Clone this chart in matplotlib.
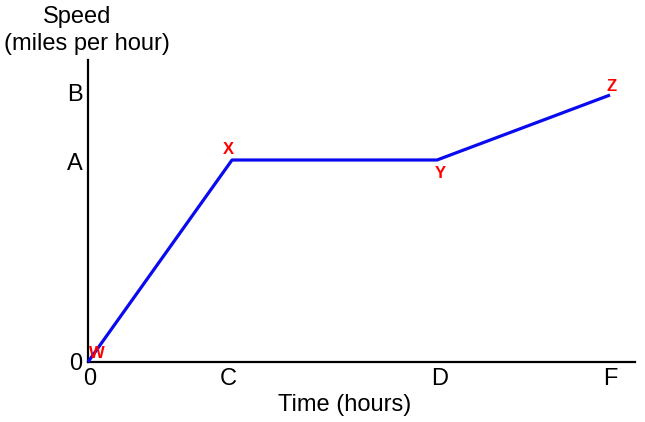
import matplotlib.pyplot as plt

# speed-time graph points
times = [0, 1.44, 3.49, 5.22]
speeds = [0, 2.02, 2.02, 2.67]
point_names = ['W', 'X', 'Y', 'Z']
label_offsets = [(9, 8), (-4, 10), (3, -13), (2, 8)]

x_ticks = [0.02, 1.40, 3.52, 5.22]
x_tick_labels = ['0', 'C', 'D', 'F']
y_ticks = [0, 2.0, 2.69]
y_tick_labels = ['0', 'A', 'B']

plt.rcParams['font.family'] = ['Liberation Sans', 'DejaVu Sans']

fig = plt.figure(figsize=(6.45, 4.22), dpi=100)
ax = fig.add_axes([88 / 645, 60 / 422, 547 / 645, 302 / 422])

ax.plot(times, speeds, color='#0a0af0', linewidth=2.3, solid_capstyle='butt',
        clip_on=False, zorder=3)

for name, t, s, off in zip(point_names, times, speeds, label_offsets):
    ax.annotate(name, (t, s), xytext=off, textcoords='offset pixels',
                ha='center', va='center', color='red', fontsize=12,
                fontweight='bold', annotation_clip=False, zorder=4)

ax.set_xlim(0, 5.47)
ax.set_ylim(0, 3.02)
ax.set_xticks(x_ticks)
ax.set_xticklabels(x_tick_labels)
ax.set_yticks(y_ticks)
ax.set_yticklabels(y_tick_labels)
ax.tick_params(length=0, labelsize=17, pad=4)

for side in ['top', 'right']:
    ax.spines[side].set_visible(False)
for side in ['left', 'bottom']:
    ax.spines[side].set_linewidth(1.6)
    ax.spines[side].set_color('black')

fig.text(77 / 645, 1 - 17 / 422, 'Speed', ha='center', va='center', fontsize=17)
fig.text(87 / 645, 1 - 44 / 422, '(miles per hour)', ha='center', va='center', fontsize=17)
fig.text(345 / 645, 1 - 405 / 422, 'Time (hours)', ha='center', va='center', fontsize=17)

fig.savefig('out.png', dpi=100)
